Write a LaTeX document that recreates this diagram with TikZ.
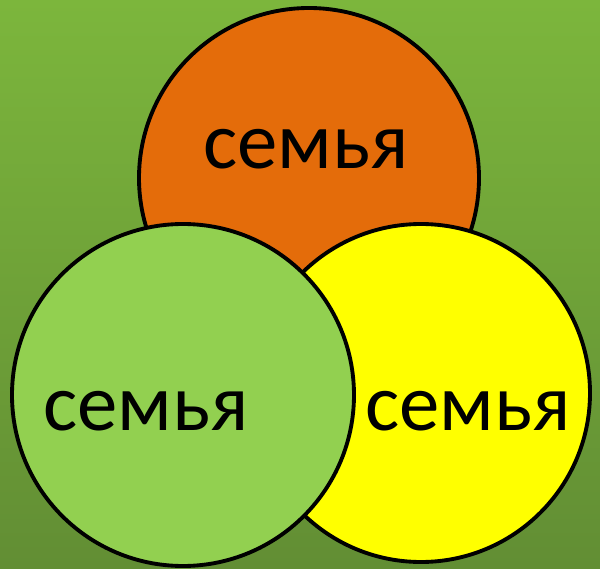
\documentclass[tikz,border=0pt]{standalone}
\usepackage{fontspec}
\setmainfont{Carlito}
\definecolor{grassTop}{RGB}{124,182,60}
\definecolor{grassBot}{RGB}{98,142,52}
\definecolor{famOrange}{RGB}{228,108,10}
\definecolor{famGreen}{RGB}{146,208,80}
\definecolor{famYellow}{RGB}{255,255,0}
\begin{document}
\begin{tikzpicture}[ring/.style={draw=black, line width=2.2pt},
    word/.style={anchor=base, font=\fontsize{46}{52}\selectfont}]
\useasboundingbox (0,0) rectangle (12,11.36);
\shade [top color=grassTop, bottom color=grassBot] (0,0) rectangle (12,11.36);

\draw [ring, fill=famOrange] (6.18,7.80) circle (3.4);
\draw [ring, fill=famYellow] (8.42,3.50) circle (3.38);
\draw [ring, fill=famGreen] (3.66,3.46) circle (3.42);

\node [word] (top) at (6.12,8.00) {семья};
\node [word] (left) at (2.92,2.76) {семья};
\node [word] (right) at (9.36,2.76) {семья};
\end{tikzpicture}
\end{document}
